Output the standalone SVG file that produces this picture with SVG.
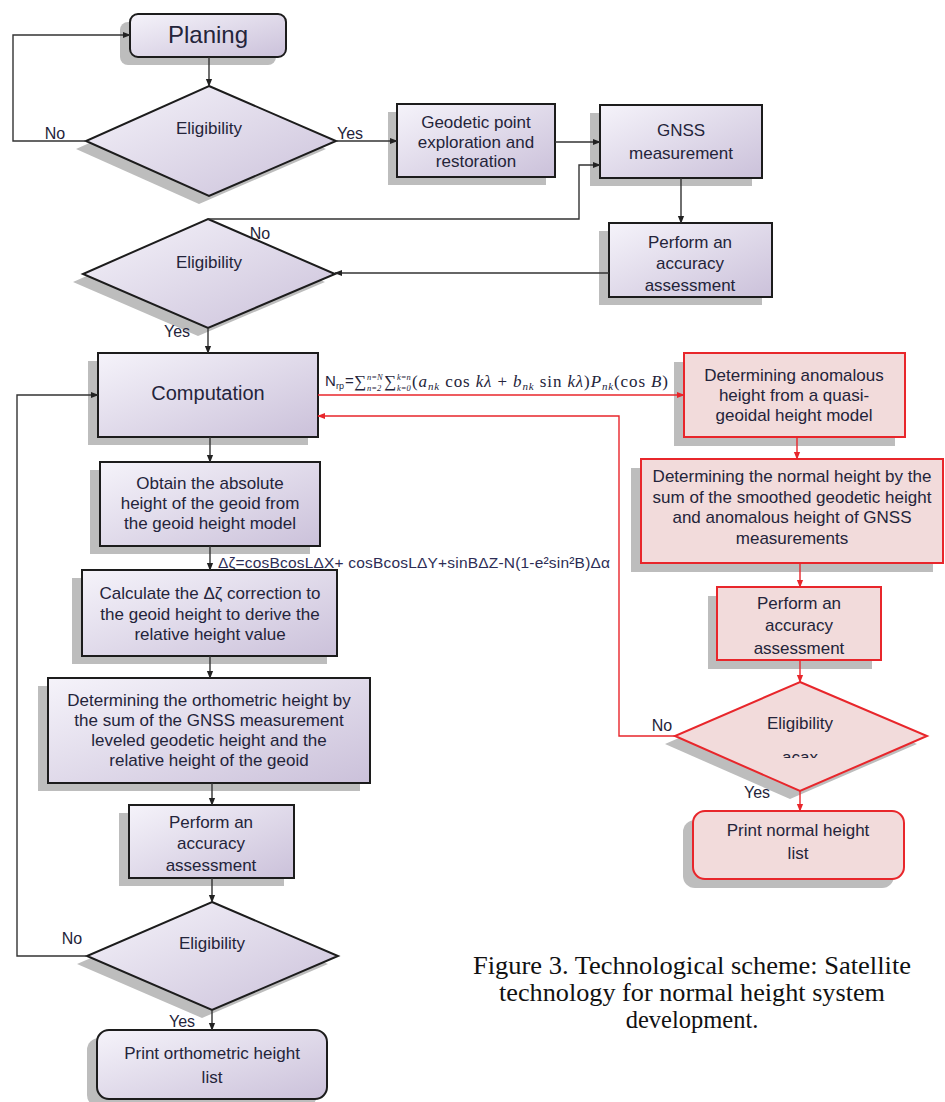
<svg xmlns="http://www.w3.org/2000/svg" width="945" height="1102" viewBox="0 0 945 1102">
<defs>
<linearGradient id="pg" x1="0" y1="0" x2="1" y2="1">
<stop offset="0" stop-color="#f5f3fa"/>
<stop offset="1" stop-color="#cbc1da"/>
</linearGradient>
<marker id="ab" viewBox="0 0 10 10" refX="9" refY="5" markerWidth="8" markerHeight="8" markerUnits="userSpaceOnUse" orient="auto"><path d="M0,1 L10,5 L0,9 z" fill="#222"/></marker>
<marker id="ar" viewBox="0 0 10 10" refX="9" refY="5" markerWidth="8" markerHeight="8" markerUnits="userSpaceOnUse" orient="auto"><path d="M0,1 L10,5 L0,9 z" fill="#e8262b"/></marker>
<clipPath id="cut"><rect x="750" y="740" width="100" height="18"/></clipPath>
<style>
.box{fill:url(#pg);stroke:#1c1c1c;stroke-width:2}
.rbox{fill:#f2dbdb;stroke:#e8262b;stroke-width:2}
.sh{fill:#bdbdbd}
.t{font-family:'Liberation Sans',Arial,sans-serif;font-size:17px;fill:#24243a;text-anchor:middle}
.l{font-family:'Liberation Sans',Arial,sans-serif;font-size:16px;fill:#24243a;text-anchor:middle}
.c{fill:none;stroke:#333;stroke-width:1.4}
.rc{fill:none;stroke:#e8262b;stroke-width:1.4}
.cap{font-family:'Liberation Serif','Times New Roman',serif;font-size:24.5px;fill:#111;text-anchor:middle}
</style>
</defs>
<rect width="945" height="1102" fill="#fff"/>

<g id="planing">
<rect class="sh" x="120" y="22" width="156" height="43" rx="8"/>
<rect class="box" x="130" y="14" width="156" height="43" rx="8"/>
<text class="t" x="208" y="43" style="font-size:24px">Planing</text>
</g>

<g id="elig1">
<polygon class="sh" points="199,94 326,149 199,204 76,149"/>
<polygon class="box" points="209,86 336,141 209,196 86,141"/>
<text class="t" x="209" y="134">Eligibility</text>
<text class="l" x="55" y="139">No</text>
<text class="l" x="350" y="139">Yes</text>
</g>

<g id="geodetic">
<rect class="sh" x="388" y="112" width="158" height="73"/>
<rect class="box" x="397" y="104" width="158" height="73"/>
<text class="t" x="476" y="128">Geodetic point</text>
<text class="t" x="476" y="148">exploration and</text>
<text class="t" x="476" y="167">restoration</text>
</g>

<g id="gnss">
<rect class="sh" x="590" y="113" width="162" height="73"/>
<rect class="box" x="600" y="105" width="162" height="73"/>
<text class="t" x="681" y="136">GNSS</text>
<text class="t" x="681" y="159">measurement</text>
</g>

<g id="perform1">
<rect class="sh" x="599" y="231" width="163" height="74"/>
<rect class="box" x="609" y="223" width="163" height="74"/>
<text class="t" x="690" y="248">Perform an</text>
<text class="t" x="690" y="269">accuracy</text>
<text class="t" x="690" y="291">assessment</text>
</g>

<g id="elig2">
<polygon class="sh" points="198,227 325,282 198,336 73,282"/>
<polygon class="box" points="208,219 335,274 208,328 83,274"/>
<text class="t" x="209" y="268">Eligibility</text>
<text class="l" x="260" y="239">No</text>
<text class="l" x="177" y="337">Yes</text>
</g>

<g id="computation">
<rect class="sh" x="88" y="361" width="220" height="84"/>
<rect class="box" x="98" y="353" width="220" height="84"/>
<text class="t" x="208" y="400" style="font-size:20px">Computation</text>
</g>

<g id="formula1">
<text font-family="'Liberation Serif','Times New Roman',serif" fill="#24243a">
<tspan x="325" y="386" font-family="'Liberation Sans',Arial,sans-serif" font-size="15">N</tspan>
<tspan x="336" y="389" font-family="'Liberation Sans',Arial,sans-serif" font-size="9">rp</tspan>
<tspan x="345" y="386" font-family="'Liberation Sans',Arial,sans-serif" font-size="15">=</tspan>
<tspan x="354" y="387" font-size="17">∑</tspan>
<tspan x="367" y="380" font-size="8.5" font-style="italic">n=N</tspan>
<tspan x="367" y="391" font-size="8.5" font-style="italic">n=2</tspan>
<tspan x="384" y="387" font-size="17">∑</tspan>
<tspan x="397" y="380" font-size="8.5" font-style="italic">k=n</tspan>
<tspan x="397" y="391" font-size="8.5" font-style="italic">k=0</tspan>
</text>
<text x="412" y="387" font-family="'Liberation Serif','Times New Roman',serif" font-size="17" fill="#24243a" textLength="256" lengthAdjust="spacing">(<tspan font-style="italic">a</tspan><tspan font-style="italic" font-size="11" dy="3">nk</tspan><tspan dy="-3"> cos </tspan><tspan font-style="italic">kλ</tspan> + <tspan font-style="italic">b</tspan><tspan font-style="italic" font-size="11" dy="3">nk</tspan><tspan dy="-3"> sin </tspan><tspan font-style="italic">kλ</tspan>)<tspan font-style="italic">P</tspan><tspan font-style="italic" font-size="11" dy="3">nk</tspan><tspan dy="-3">(cos </tspan><tspan font-style="italic">B</tspan>)</text>
</g>

<g id="obtain">
<rect class="sh" x="90" y="470" width="220" height="84"/>
<rect class="box" x="100" y="462" width="220" height="84"/>
<text class="t" x="210" y="489">Obtain the absolute</text>
<text class="t" x="210" y="509">height of the geoid from</text>
<text class="t" x="210" y="529">the geoid height model</text>
</g>

<g id="formula2">
<text x="218" y="568" font-family="'Liberation Sans',Arial,sans-serif" font-size="15.5" fill="#2d2d55" textLength="392" lengthAdjust="spacing">Δζ=cosBcosLΔX+ cosBcosLΔY+sinBΔZ-N(1-e²sin²B)Δα</text>
</g>

<g id="calculate">
<rect class="sh" x="72" y="578" width="255" height="86"/>
<rect class="box" x="82" y="570" width="255" height="86"/>
<text class="t" x="210" y="599">Calculate the Δζ correction to</text>
<text class="t" x="210" y="620">the geoid height to derive the</text>
<text class="t" x="210" y="640">relative height value</text>
</g>

<g id="ortho">
<rect class="sh" x="38" y="686" width="322" height="105"/>
<rect class="box" x="48" y="678" width="322" height="105"/>
<text class="t" x="209" y="706">Determining the orthometric height by</text>
<text class="t" x="209" y="726">the sum of the GNSS measurement</text>
<text class="t" x="209" y="746">leveled geodetic height and the</text>
<text class="t" x="209" y="766">relative height of the geoid</text>
</g>

<g id="perform2">
<rect class="sh" x="119" y="813" width="165" height="73"/>
<rect class="box" x="129" y="805" width="165" height="73"/>
<text class="t" x="211" y="828">Perform an</text>
<text class="t" x="211" y="849">accuracy</text>
<text class="t" x="211" y="871">assessment</text>
</g>

<g id="elig3">
<polygon class="sh" points="202,910 328,964 202,1018 77,964"/>
<polygon class="box" points="212,902 338,956 212,1010 87,956"/>
<text class="t" x="212" y="949">Eligibility</text>
<text class="l" x="72" y="944">No</text>
<text class="l" x="182" y="1027">Yes</text>
</g>

<g id="printortho">
<rect class="sh" x="87" y="1038" width="230" height="69" rx="12"/>
<rect class="box" x="97" y="1030" width="230" height="69" rx="12"/>
<text class="t" x="212" y="1059">Print orthometric height</text>
<text class="t" x="212" y="1083">list</text>
</g>

<g id="anomalous">
<rect class="sh" x="674" y="362" width="221" height="84"/>
<rect class="rbox" x="684" y="353" width="221" height="84"/>
<text class="t" x="794" y="381">Determining anomalous</text>
<text class="t" x="794" y="401">height from a quasi-</text>
<text class="t" x="794" y="421">geoidal height model</text>
</g>

<g id="normal">
<rect class="sh" x="631" y="468" width="302" height="104"/>
<rect class="rbox" x="641" y="459" width="302" height="104"/>
<text class="t" x="792" y="482">Determining the normal height by the</text>
<text class="t" x="792" y="503">sum of the smoothed geodetic height</text>
<text class="t" x="792" y="523">and anomalous height of GNSS</text>
<text class="t" x="792" y="544">measurements</text>
</g>

<g id="perform3">
<rect class="sh" x="708" y="596" width="164" height="73"/>
<rect class="rbox" x="717" y="587" width="164" height="73"/>
<text class="t" x="799" y="609">Perform an</text>
<text class="t" x="799" y="631">accuracy</text>
<text class="t" x="799" y="654">assessment</text>
</g>

<g id="elig4">
<polygon class="sh" points="790,690 917,744 790,799 665,744"/>
<polygon class="rbox" points="800,682 927,736 800,791 675,736"/>
<text class="t" x="800" y="729">Eligibility</text>
<text class="t" x="800" y="763" clip-path="url(#cut)">acax</text>
<text class="l" x="662" y="731">No</text>
<text class="l" x="757" y="798">Yes</text>
</g>

<g id="printnormal">
<rect class="sh" x="683" y="820" width="211" height="68" rx="12"/>
<rect class="rbox" x="693" y="811" width="211" height="68" rx="12"/>
<text class="t" x="798" y="836">Print normal height</text>
<text class="t" x="798" y="859">list</text>
</g>

<g id="caption">
<text class="cap" x="692" y="974" textLength="438" lengthAdjust="spacingAndGlyphs">Figure 3. Technological scheme: Satellite</text>
<text class="cap" x="692" y="1001" textLength="386" lengthAdjust="spacingAndGlyphs">technology for normal height system</text>
<text class="cap" x="692" y="1028">development.</text>
</g>

<g id="connectors">
<path class="c" marker-end="url(#ab)" d="M209,57 V86"/>
<path class="c" marker-end="url(#ab)" d="M86,141 H13 V35 H130"/>
<path class="c" marker-end="url(#ab)" d="M336,141 H397"/>
<path class="c" marker-end="url(#ab)" d="M555,142 H600"/>
<path class="c" marker-end="url(#ab)" d="M681,178 V223"/>
<path class="c" marker-end="url(#ab)" d="M609,273 H335"/>
<path class="c" marker-end="url(#ab)" d="M208,219 H579 V165 H600"/>
<path class="c" marker-end="url(#ab)" d="M208,328 V353"/>
<path class="c" marker-end="url(#ab)" d="M210,437 V462"/>
<path class="c" marker-end="url(#ab)" d="M210,546 V570"/>
<path class="c" marker-end="url(#ab)" d="M210,656 V678"/>
<path class="c" marker-end="url(#ab)" d="M212,783 V805"/>
<path class="c" marker-end="url(#ab)" d="M212,878 V902"/>
<path class="c" marker-end="url(#ab)" d="M212,1010 V1030"/>
<path class="c" marker-end="url(#ab)" d="M87,956 H17 V395 H98"/>
<path class="rc" marker-end="url(#ar)" d="M318,395 H684"/>
<path class="rc" marker-end="url(#ar)" d="M797,437 V459"/>
<path class="rc" marker-end="url(#ar)" d="M800,563 V587"/>
<path class="rc" marker-end="url(#ar)" d="M800,660 V682"/>
<path class="rc" marker-end="url(#ar)" d="M800,791 V811"/>
<path class="rc" marker-end="url(#ar)" d="M675,736 H619 V416 H318"/>
</g>
</svg>
